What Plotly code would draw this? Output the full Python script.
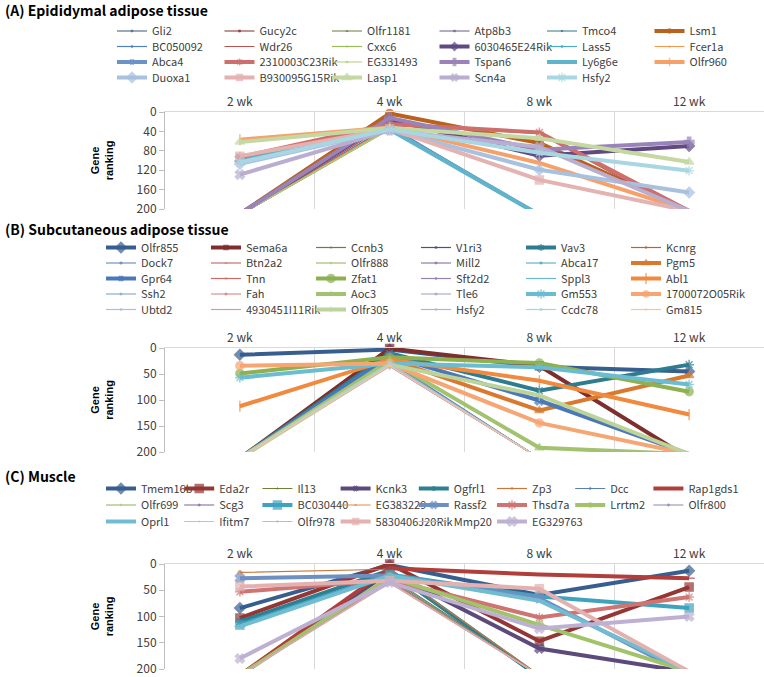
import plotly.graph_objects as go

weeks = ["2 wk", "4 wk", "8 wk", "12 wk"]

# ---------------- Panel A: Epididymal adipose tissue ----------------
a_genes = ["Gli2", "Gucy2c", "Olfr1181", "Atp8b3", "Tmco4", "Lsm1",
           "BC050092", "Wdr26", "Cxxc6", "6030465E24Rik", "Lass5", "Fcer1a",
           "Abca4", "2310003C23Rik", "EG331493", "Tspan6", "Ly6g6e", "Olfr960",
           "Duoxa1", "B930095G15Rik", "Lasp1", "Scn4a", "Hsfy2"]
a_values = [
    [212, 30, 212, 212], [212, 34, 212, 212], [212, 33, 212, 212], [212, 31, 212, 212],
    [212, 35, 212, 212], [210, 3, 64, 204],
    [212, 29, 212, 212], [212, 24, 45, 212], [212, 36, 212, 212], [210, 16, 90, 70],
    [212, 33, 212, 212], [212, 32, 212, 212],
    [97, 34, 212, 212], [93, 25, 42, 204], [212, 35, 212, 212], [210, 12, 78, 62],
    [101, 36, 212, 212], [57, 32, 105, 204],
    [107, 37, 119, 166], [91, 35, 140, 204], [62, 33, 54, 103], [129, 38, 72, 204],
    [104, 36, 84, 121],
]
a_colors = ["#3B5677", "#7A2E2C", "#667A3E", "#6A5A80", "#2E7486", "#B8621E",
            "#4F81BD", "#C0504D", "#9BBB59", "#5F4A82", "#4BACC6", "#F79646",
            "#6C93C8", "#CD6F6C", "#AFC97A", "#9A83B8", "#5FB4CB", "#F6A06A",
            "#A8C1DF", "#E3B2B1", "#C4D8A0", "#B9AECF", "#A9D6E3"]
a_thick = [0, 0, 0, 0, 0, 1,
           0, 0, 0, 1, 0, 0,
           1, 1, 0, 1, 1, 1,
           1, 1, 1, 1, 1]
a_ticks = [0, 40, 80, 120, 160, 200]

# ---------------- Panel B: Subcutaneous adipose tissue ----------------
b_genes = ["Olfr855", "Sema6a", "Ccnb3", "V1ri3", "Vav3", "Kcnrg",
           "Dock7", "Btn2a2", "Olfr888", "Mill2", "Abca17", "Pgm5",
           "Gpr64", "Tnn", "Zfat1", "Sft2d2", "Sppl3", "Abl1",
           "Ssh2", "Fah", "Aoc3", "Tle6", "Gm553", "1700072O05Rik",
           "Ubtd2", "4930451I11Rik", "Olfr305", "Hsfy2", "Ccdc78", "Gm815"]
b_values = [
    [13, 3, 36, 45], [212, 1, 34, 212], [212, 28, 212, 212], [212, 32, 212, 212],
    [212, 10, 82, 32], [212, 30, 212, 212],
    [212, 25, 212, 212], [212, 30, 212, 212], [212, 33, 212, 212], [212, 35, 212, 212],
    [212, 30, 212, 212], [212, 21, 120, 53],
    [212, 15, 101, 204], [212, 30, 212, 212], [49, 18, 29, 84], [212, 34, 212, 212],
    [212, 32, 212, 212], [112, 22, 63, 128],
    [212, 28, 212, 212], [212, 30, 212, 212], [212, 24, 192, 204], [212, 33, 212, 212],
    [57, 30, 37, 70], [34, 30, 144, 204],
    [212, 32, 212, 212], [212, 33, 212, 212], [212, 32, 91, 204], [212, 35, 212, 212],
    [212, 30, 212, 212], [212, 34, 212, 212],
]
b_colors = ["#375E8F", "#7E2F2D", "#6A7F3A", "#5B4A72", "#2D7C8F", "#B8652A",
            "#5A7FB0", "#B85450", "#8FAE5A", "#7A6399", "#46A2BA", "#D9792F",
            "#4A78B8", "#C86A68", "#8DB150", "#9383AE", "#6AB8CC", "#F08A3E",
            "#7A9CC8", "#D27E7C", "#A3C270", "#A797BF", "#6BBCD0", "#F6A673",
            "#A9C0DD", "#D69B9A", "#BCD39A", "#BBAFCF", "#A3D4E0", "#F7C3A0"]
b_thick = [1, 1, 0, 0, 1, 0,
           0, 0, 0, 0, 0, 1,
           1, 0, 1, 0, 0, 1,
           0, 0, 1, 0, 1, 1,
           0, 0, 1, 0, 0, 0]
b_ticks = [0, 50, 100, 150, 200]

# ---------------- Panel C: Muscle ----------------
c_genes = ["Tmem16b", "Eda2r", "Il13", "Kcnk3", "Ogfrl1", "Zp3", "Dcc", "Rap1gds1",
           "Olfr699", "Scg3", "BC030440", "EG383229", "Rassf2", "Thsd7a", "Lrrtm2", "Olfr800",
           "Oprl1", "Ifitm7", "Olfr978", "5830406J20Rik", "Mmp20", "EG329763"]
c_values = [
    [84, 2, 59, 13], [103, 0, 147, 44], [212, 25, 212, 212], [212, 15, 161, 206],
    [110, 12, 215, 215], [16, 10, 212, 212], [212, 28, 212, 212], [212, 8, 20, 27],
    [212, 30, 212, 212], [212, 32, 212, 212], [116, 20, 62, 84], [212, 33, 212, 212],
    [27, 22, 65, 212], [53, 30, 102, 63], [212, 25, 116, 205], [212, 34, 212, 212],
    [119, 22, 70, 205], [212, 35, 212, 212], [212, 36, 212, 212], [43, 32, 47, 205],
    [212, 36, 212, 212], [180, 35, 123, 100],
]
c_colors = ["#375E8F", "#943634", "#6A7F3A", "#5B4A7A", "#2F7F92", "#C8773A", "#5A7FB0", "#B03E3B",
            "#8FAE5A", "#7A6399", "#3FA3BE", "#E58A45", "#6E8FC2", "#CF7472", "#A2C36A", "#9383AE",
            "#72BCD2", "#F2B58A", "#A9C0DD", "#E3B1B0", "#E0A8A6", "#BDB0D2"]
c_thick = [1, 1, 0, 1, 1, 0, 0, 1,
           0, 0, 1, 0, 1, 1, 1, 0,
           1, 0, 0, 1, 0, 1]
c_ticks = [0, 50, 100, 150, 200]

# ---------------- layout helpers ----------------
W, H = 764, 677
FONT = "Noto Sans CJK KR"
SYMBOLS = ["diamond", "square", "triangle-up", "x", "asterisk-open",
           "circle", "cross", "line-ew-open", "line-ns-open"]

panels = [
    dict(genes=a_genes, values=a_values, colors=a_colors, thick=a_thick, ticks=a_ticks,
         top=112, bot=209, rows=[31, 46.5, 62, 77.5], ncol=6, text_x=152, col_w=107.5,
         title="(A) Epididymal adipose tissue", title_y=10),
    dict(genes=b_genes, values=b_values, colors=b_colors, thick=b_thick, ticks=b_ticks,
         top=348, bot=452, rows=[247.5, 263, 278.5, 294, 309.5], ncol=6, text_x=141, col_w=105,
         title="(B) Subcutaneous adipose tissue", title_y=229),
    dict(genes=c_genes, values=c_values, colors=c_colors, thick=c_thick, ticks=c_ticks,
         top=564, bot=669, rows=[488.5, 505, 521.5], ncol=8, text_x=141, col_w=78.2,
         title="(C) Muscle", title_y=476),
]

fig = go.Figure()
layout = dict(width=W, height=H, margin=dict(l=0, r=0, t=0, b=0, autoexpand=False),
              paper_bgcolor="white", plot_bgcolor="white", showlegend=True,
              font=dict(family=FONT, size=12, color="#404040"), annotations=[])


def legend_key(n):
    return "legend" if n == 1 else f"legend{n}"


legend_no = 0
for k, p in enumerate(panels, start=1):
    xa = "x" if k == 1 else f"x{k}"
    ya = "y" if k == 1 else f"y{k}"
    for i, (g, vals, col, th) in enumerate(zip(p["genes"], p["values"], p["colors"], p["thick"])):
        row, colno = divmod(i, p["ncol"])
        legend_no += 1
        lk = legend_key(legend_no)
        layout[lk] = dict(
            orientation="h", visible=True,
            x=(p["text_x"] - 40 + colno * p["col_w"]) / W, xanchor="left",
            y=1 - p["rows"][row] / H, yanchor="middle",
            font=dict(family=FONT, size=11, color="#404040"),
            itemwidth=30, bgcolor="rgba(0,0,0,0)", tracegroupgap=0)
        ms = 8 if th else 4
        sizes = [0 if v > 200 else ms for v in vals]
        fig.add_trace(go.Scatter(
            x=weeks, y=vals, name=g, mode="lines+markers", showlegend=True,
            line=dict(color=col, width=4 if th else 1.2),
            marker=dict(symbol=SYMBOLS[i % 9], size=sizes, color=col,
                        line=dict(color=col, width=1.5 if th else 0.8)),
            cliponaxis=False, xaxis=xa, yaxis=ya, legend=lk, hoverinfo="skip"))
    xkey = "xaxis" if k == 1 else f"xaxis{k}"
    ykey = "yaxis" if k == 1 else f"yaxis{k}"
    layout[xkey] = dict(domain=[165 / W, 1], anchor=ya, type="category",
                        categoryorder="array", categoryarray=weeks, range=[-0.5, 3.5],
                        side="top", tickson="boundaries", showgrid=True, gridcolor="#D9D9D9",
                        showline=True, linecolor="#D9D9D9", ticks="", zeroline=False,
                        automargin=False,
                        tickfont=dict(family=FONT, size=12, color="#404040"))
    layout[ykey] = dict(domain=[1 - p["bot"] / H, 1 - p["top"] / H], anchor=xa,
                        range=[200, 0], tickvals=p["ticks"], showline=True,
                        linecolor="#BFBFBF", ticks="outside", ticklen=5, tickcolor="#BFBFBF",
                        showgrid=False, zeroline=False, automargin=False,
                        tickfont=dict(family=FONT, size=12, color="#404040"),
                        title=dict(text="Gene<br>ranking", standoff=20,
                                   font=dict(family="Liberation Sans", size=11,
                                             weight="bold", color="#000000")))
    layout["annotations"].append(dict(
        text=p["title"], x=3 / W, y=1 - p["title_y"] / H, xref="paper", yref="paper",
        xanchor="left", yanchor="middle", showarrow=False,
        font=dict(family=FONT, size=14, weight="bold", color="#000000")))

fig.update_layout(**layout)
fig.write_html("out.html", config={"displayModeBar": False},
               post_script="document.body.style.margin='0';document.body.style.padding='0';")
